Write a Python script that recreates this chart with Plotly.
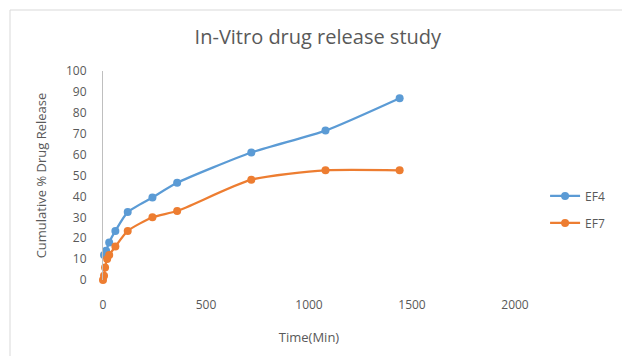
import plotly.graph_objects as go

# Sampling times (min) and cumulative release (%) for each formulation
time_ef4 = [5, 15, 30, 60, 120, 240, 360, 720, 1080, 1440]
release_ef4 = [12, 14, 18, 23.5, 32.5, 39.5, 46.5, 61, 71.5, 87]

time_ef7 = [0, 5, 10, 20, 30, 60, 120, 240, 360, 720, 1080, 1440]
release_ef7 = [0, 2, 6, 10, 12, 16, 23.5, 30, 33, 48, 52.5, 52.5]

x_ticks = [0, 500, 1000, 1500, 2000]
y_ticks = list(range(0, 101, 10))

BLUE = "#5B9BD5"
ORANGE = "#ED7D31"
TEXT = "#595959"
FONT = "Open Sans"

fig = go.Figure()
fig.add_trace(go.Scatter(
    x=time_ef4, y=release_ef4, name="EF4", mode="lines+markers",
    line=dict(color=BLUE, width=2.25, shape="spline", smoothing=0.6),
    marker=dict(color=BLUE, size=8), cliponaxis=False, legend="legend",
))
fig.add_trace(go.Scatter(
    x=time_ef7, y=release_ef7, name="EF7", mode="lines+markers",
    line=dict(color=ORANGE, width=2.25, shape="spline", smoothing=0.6),
    marker=dict(color=ORANGE, size=8), cliponaxis=False, legend="legend2",
))

legend_common = dict(
    xanchor="left", yanchor="middle", bgcolor="rgba(0,0,0,0)",
    font=dict(family=FONT, size=12, color=TEXT), itemwidth=30,
)

fig.update_layout(
    width=622, height=356,
    margin=dict(l=103, r=107, t=71, b=76),
    paper_bgcolor="white", plot_bgcolor="white",
    font=dict(family=FONT, size=12, color=TEXT),
    showlegend=True,
    title=dict(
        text="In-Vitro drug release study", x=0.511, xanchor="center",
        y=1 - 37 / 356, yanchor="middle",
        font=dict(family=FONT, size=20, color=TEXT),
    ),
    legend=dict(x=1.073, y=0.402, **legend_common),
    legend2=dict(x=1.073, y=0.273, **legend_common),
    xaxis=dict(
        range=[0, 2000], tickvals=x_ticks, showgrid=False, zeroline=False,
        showline=False, ticks="outside", ticklen=14,
        tickcolor="rgba(0,0,0,0)",
        tickfont=dict(family=FONT, size=12, color=TEXT),
        title=dict(text="Time(Min)", standoff=20,
                   font=dict(family=FONT, size=13, color=TEXT)),
    ),
    yaxis=dict(
        range=[0, 100], tickvals=y_ticks, showgrid=False, zeroline=False,
        showline=True, linecolor="#BFBFBF", linewidth=1,
        ticks="outside", ticklen=13, tickcolor="rgba(0,0,0,0)",
        tickfont=dict(family=FONT, size=12, color=TEXT),
        title=dict(text="Cumulative % Drug Release", standoff=16,
                   font=dict(family=FONT, size=13, color=TEXT)),
    ),
    shapes=[dict(
        type="rect", xref="paper", yref="paper",
        x0=(10 - 103) / 412, x1=2.0, y0=(280 - 10) / 209, y1=-1.0,
        line=dict(color="#D9D9D9", width=1), fillcolor="rgba(0,0,0,0)",
        layer="below",
    )],
)

fig.write_html("out.html")
